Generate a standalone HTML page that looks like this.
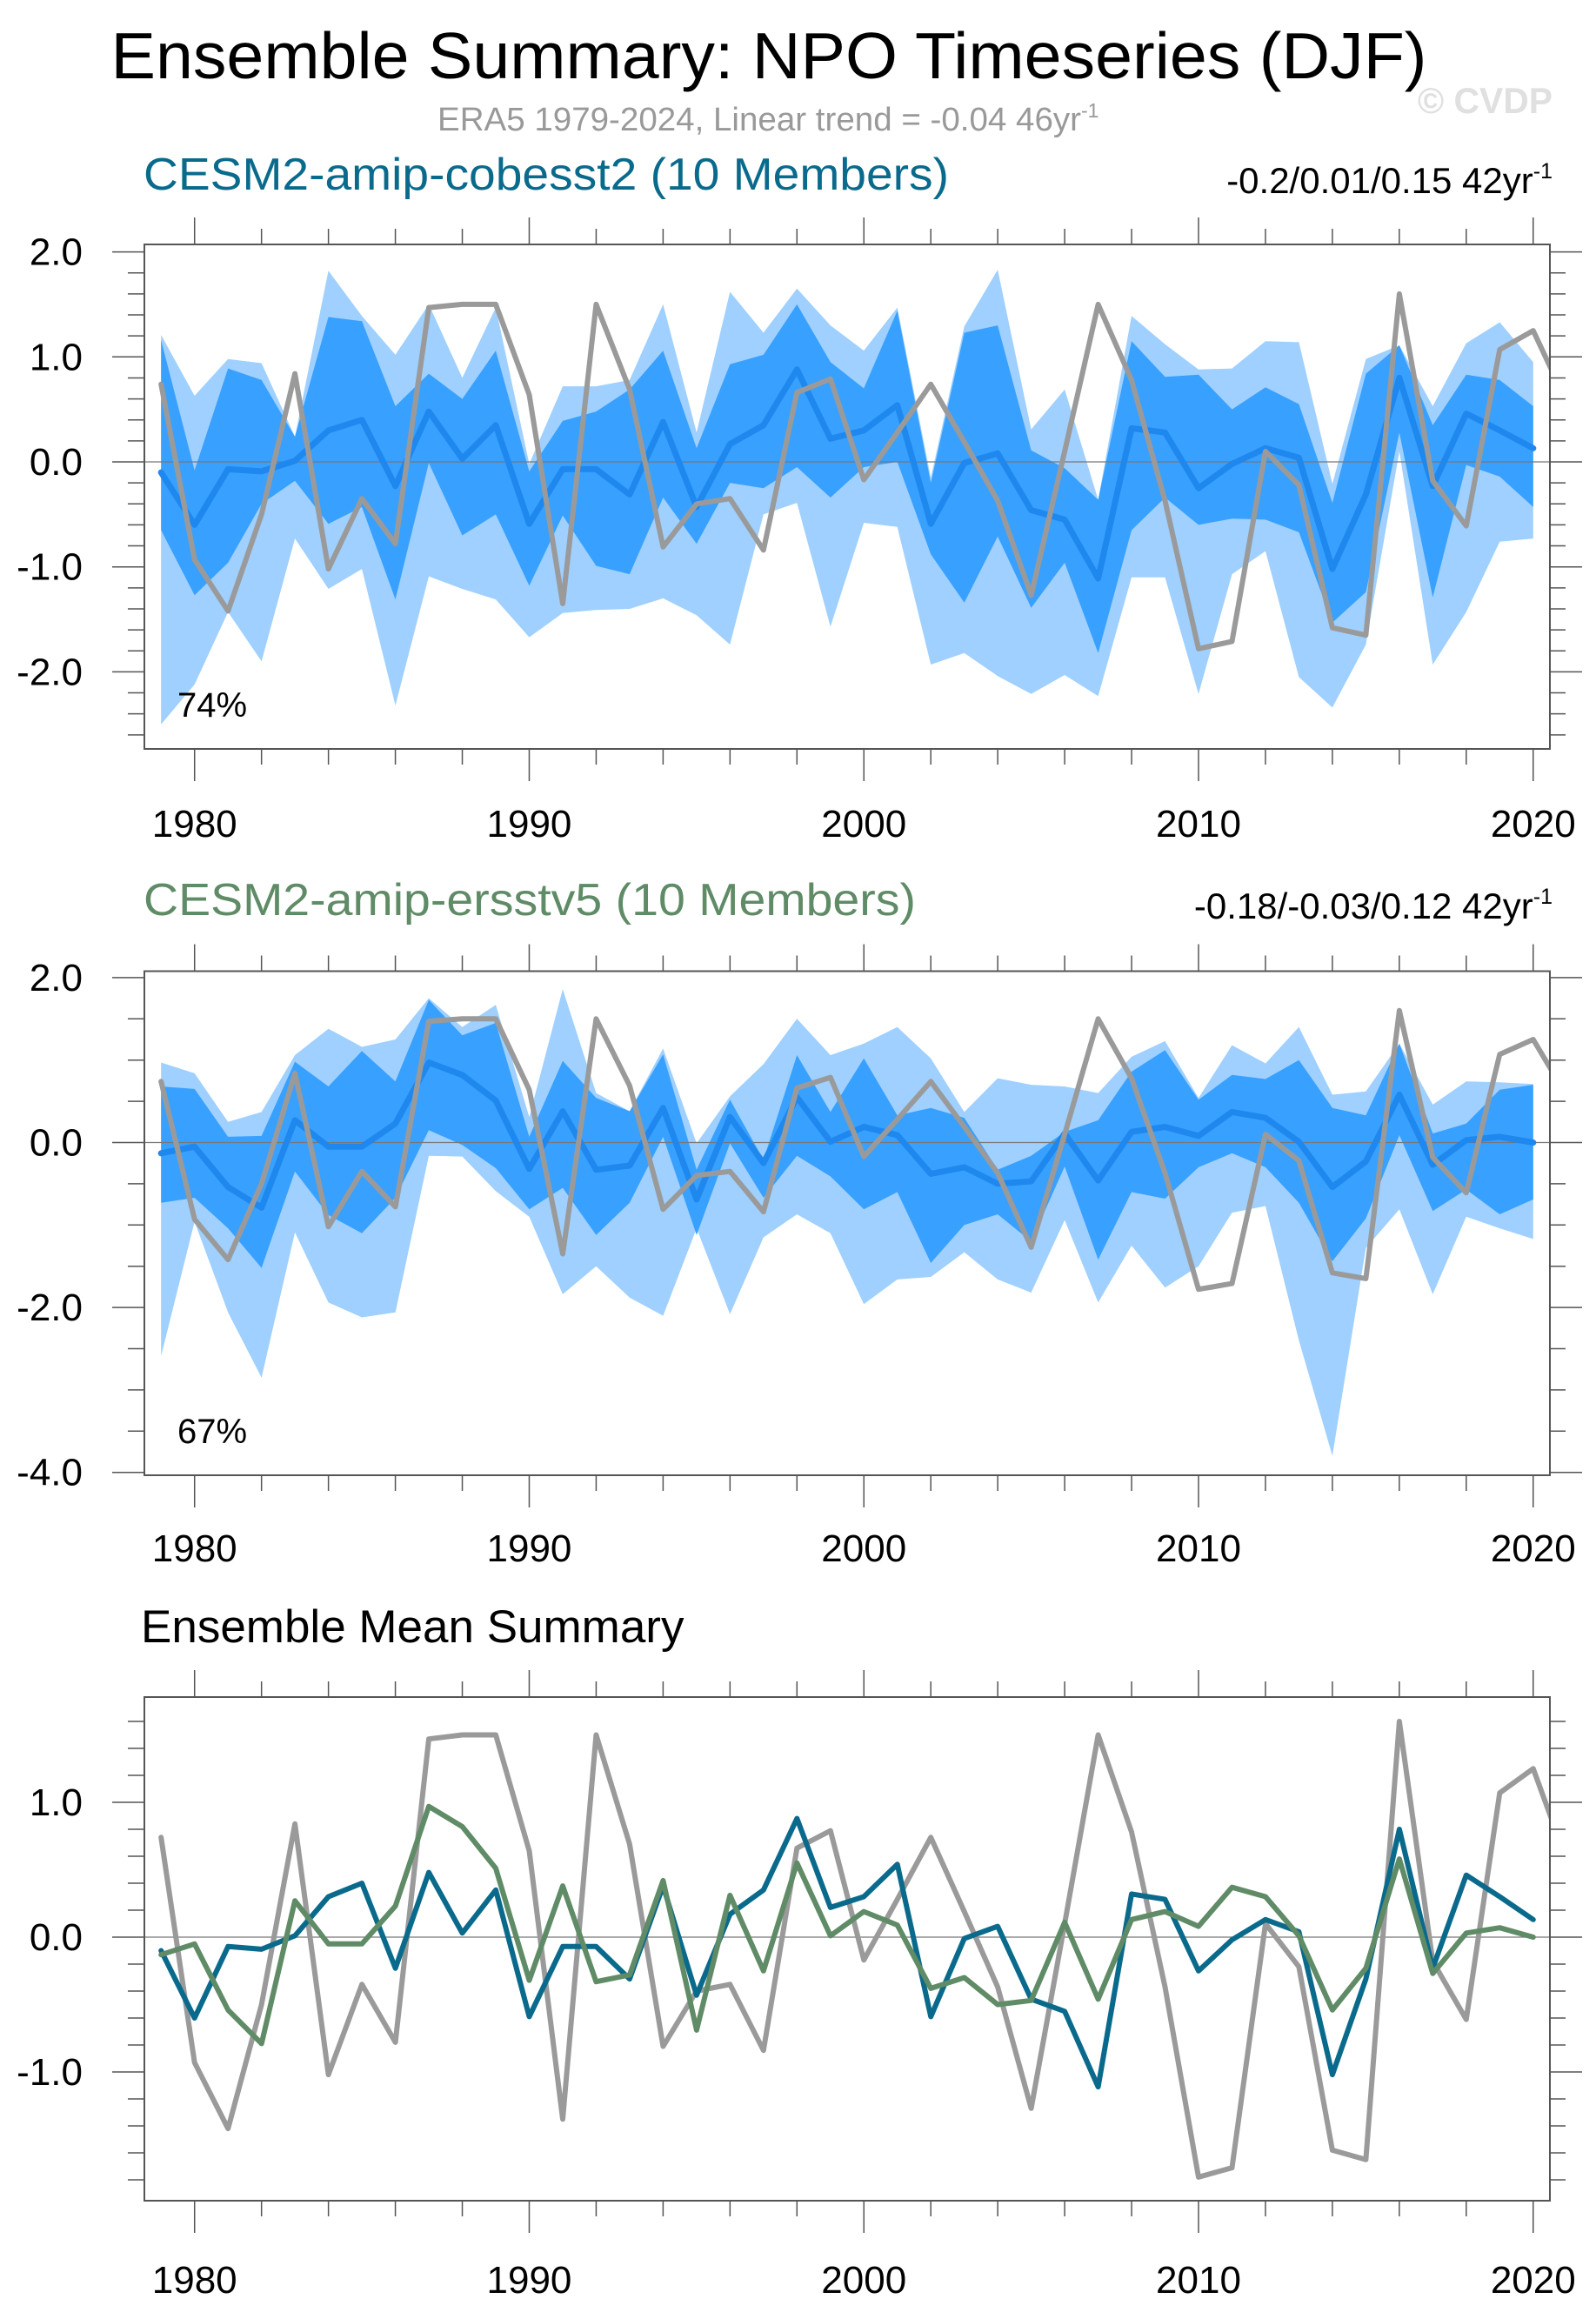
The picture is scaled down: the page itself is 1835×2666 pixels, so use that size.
<!DOCTYPE html>
<html><head><meta charset="utf-8"><style>
html,body{margin:0;padding:0;background:#fff;}
svg{display:block;font-family:"Liberation Sans",Arial,sans-serif;}
</style></head><body>
<svg id="chart" width="1835" height="2666" viewBox="0 0 1835 2666" xmlns="http://www.w3.org/2000/svg">
<text x="884" y="90" font-size="75" text-anchor="middle" textLength="1513" lengthAdjust="spacingAndGlyphs">Ensemble Summary: NPO Timeseries (DJF)</text>
<text x="503" y="150" font-size="38" fill="#999"><tspan textLength="740" lengthAdjust="spacingAndGlyphs">ERA5 1979-2024, Linear trend = -0.04 46yr</tspan><tspan dy="-15" font-size="23">-1</tspan></text>
<text x="1630" y="130" font-size="42" font-weight="bold" fill="#e0e0e0" textLength="155" lengthAdjust="spacingAndGlyphs">© CVDP</text>
<text x="165" y="218" font-size="52" fill="#0a6a8c" textLength="926" lengthAdjust="spacingAndGlyphs">CESM2-amip-cobesst2 (10 Members)</text>
<text x="1785" y="222" font-size="42" text-anchor="end">-0.2/0.01/0.15 42yr<tspan dy="-17" font-size="25">-1</tspan></text>
<text x="165" y="1052" font-size="52" fill="#5f8b66" textLength="888" lengthAdjust="spacingAndGlyphs">CESM2-amip-ersstv5 (10 Members)</text>
<text x="1785" y="1056" font-size="42" text-anchor="end">-0.18/-0.03/0.12 42yr<tspan dy="-17" font-size="25">-1</tspan></text>
<text x="162" y="1888" font-size="53">Ensemble Mean Summary</text>
<g id="p1"></g>
<g id="p2"></g>
<g id="p3"></g>
</svg>
<script>
const years = [1979,1980,1981,1982,1983,1984,1985,1986,1987,1988,1989,1990,1991,1992,1993,1994,1995,1996,1997,1998,1999,2000,2001,2002,2003,2004,2005,2006,2007,2008,2009,2010,2011,2012,2013,2014,2015,2016,2017,2018,2019,2020];
const era5Years = [1979,1980,1981,1982,1983,1984,1985,1986,1987,1988,1989,1990,1991,1992,1993,1994,1995,1996,1997,1998,1999,2000,2001,2002,2003,2004,2005,2006,2007,2008,2009,2010,2011,2012,2013,2014,2015,2016,2017,2018,2019,2020,2021];
const era5 = [0.74,-0.93,-1.42,-0.50,0.84,-1.02,-0.35,-0.78,1.47,1.50,1.50,0.64,-1.35,1.50,0.69,-0.81,-0.40,-0.35,-0.84,0.66,0.79,-0.17,0.28,0.74,0.19,-0.37,-1.27,0.10,1.50,0.78,-0.37,-1.78,-1.71,0.10,-0.22,-1.58,-1.65,1.60,-0.18,-0.61,1.07,1.25,0.57];
// Panel 1: CESM2-amip-cobesst2
const cobMean = [-0.10,-0.60,-0.07,-0.09,0.01,0.30,0.40,-0.23,0.48,0.03,0.35,-0.59,-0.07,-0.07,-0.31,0.38,-0.43,0.17,0.35,0.88,0.22,0.30,0.54,-0.59,-0.01,0.08,-0.46,-0.55,-1.11,0.32,0.28,-0.25,-0.02,0.13,0.04,-1.02,-0.31,0.80,-0.23,0.46,0.30,0.13];
const cobInnerHi = [1.16,-0.08,0.89,0.78,0.24,1.38,1.34,0.53,0.84,0.60,1.06,-0.09,0.39,0.48,0.69,1.06,0.13,0.93,1.02,1.50,0.95,0.70,1.44,-0.20,1.23,1.30,0.11,-0.06,-0.36,1.15,0.81,0.83,0.50,0.71,0.55,-0.39,0.84,1.11,0.35,0.83,0.78,0.53];
const cobInnerLo = [-0.65,-1.27,-0.96,-0.40,-0.18,-0.59,-0.43,-1.31,-0.01,-0.70,-0.50,-1.18,-0.51,-0.99,-1.07,-0.34,-0.78,-0.20,-0.25,-0.05,-0.34,-0.05,0.00,-0.88,-1.34,-0.71,-1.39,-0.96,-1.82,-0.65,-0.34,-0.60,-0.54,-0.55,-0.67,-1.53,-1.24,0.28,-1.29,-0.03,-0.14,-0.43];
const cobOuterHi = [1.21,0.63,0.98,0.94,0.24,1.82,1.39,1.02,1.50,0.80,1.47,-0.02,0.72,0.72,0.78,1.50,0.28,1.62,1.23,1.65,1.30,1.06,1.47,-0.15,1.29,1.83,0.31,0.69,-0.36,1.39,1.12,0.88,0.89,1.15,1.14,-0.21,0.98,1.11,0.53,1.13,1.33,0.95];
const cobOuterLo = [-2.50,-2.12,-1.43,-1.90,-0.73,-1.21,-1.02,-2.32,-1.09,-1.21,-1.31,-1.67,-1.44,-1.41,-1.40,-1.30,-1.46,-1.74,-0.50,-0.39,-1.57,-0.58,-0.62,-1.93,-1.82,-2.04,-2.21,-2.03,-2.23,-1.10,-1.10,-2.21,-1.07,-0.85,-2.05,-2.34,-1.74,0.10,-1.93,-1.43,-0.76,-0.73];
// Panel 2: CESM2-amip-ersstv5
const ersMean = [-0.13,-0.05,-0.54,-0.79,0.27,-0.05,-0.05,0.23,0.97,0.82,0.51,-0.32,0.38,-0.33,-0.28,0.42,-0.69,0.31,-0.25,0.55,0.01,0.19,0.09,-0.38,-0.30,-0.50,-0.47,0.11,-0.46,0.13,0.19,0.08,0.37,0.30,0.01,-0.54,-0.23,0.58,-0.27,0.03,0.07,0.00];
const ersInnerHi = [0.68,0.65,0.07,0.08,0.98,0.68,1.11,0.74,1.73,1.30,1.45,0.07,0.99,0.54,0.38,1.07,-0.33,0.52,-0.21,1.06,0.37,1.02,0.33,0.42,0.30,-0.33,-0.16,0.13,0.27,0.86,1.12,0.52,0.82,0.77,1.00,0.42,0.33,1.20,0.11,0.23,0.64,0.70];
const ersInnerLo = [-0.73,-0.67,-1.04,-1.52,-0.35,-0.88,-1.10,-0.67,0.15,-0.03,-0.31,-0.81,-0.55,-1.12,-0.73,0.07,-1.12,-0.01,-0.67,-0.16,-0.41,-0.81,-0.60,-1.46,-1.00,-0.87,-1.20,-0.29,-1.42,-0.60,-0.68,-0.30,-0.13,-0.30,-0.73,-1.44,-0.92,0.09,-0.83,-0.57,-0.87,-0.69];
const ersOuterHi = [0.97,0.84,0.25,0.37,1.06,1.38,1.16,1.25,1.75,1.40,1.67,0.31,1.86,0.60,0.38,1.14,-0.01,0.56,0.95,1.50,1.06,1.20,1.40,1.02,0.37,0.78,0.70,0.68,0.60,1.04,1.23,0.54,1.18,0.96,1.40,0.58,0.62,1.20,0.46,0.74,0.73,0.71];
const ersOuterLo = [-2.59,-0.96,-2.06,-2.85,-1.09,-1.94,-2.12,-2.06,-0.16,-0.17,-0.59,-0.90,-1.84,-1.50,-1.88,-2.10,-1.04,-2.08,-1.15,-0.87,-1.10,-1.96,-1.66,-1.63,-1.33,-1.66,-1.82,-0.94,-1.94,-1.25,-1.76,-1.50,-0.85,-0.77,-2.40,-3.80,-1.28,-0.81,-1.84,-0.90,-1.04,-1.17];
const p1YTicks = [2.0,1.0,0.0,-1.0,-2.0];
const p2YTicks = [2.0,0.0,-2.0,-4.0];
const p3YTicks = [1.0,0.0,-1.0];
const xTickLabels = [1980,1990,2000,2010,2020];

const NS = "http://www.w3.org/2000/svg";
const X0 = 166, X1 = 1782, XMIN = 1978.5, XMAX = 2020.5;
function xs(yr){ return X0 + (yr - XMIN) / (XMAX - XMIN) * (X1 - X0); }
function mk(parent, tag, attrs){
  const e = document.createElementNS(NS, tag);
  for (const k in attrs) e.setAttribute(k, attrs[k]);
  parent.appendChild(e);
  return e;
}
function makePanel(g, id, top, bot, zeroY, unit, minorStep, yTicks, labelY){
  const ys = v => zeroY - v * unit;
  const vmax = (zeroY - top) / unit, vmin = (zeroY - bot) / unit;
  const cp = mk(g, 'clipPath', {id: 'clip' + id});
  mk(cp, 'rect', {x: X0, y: top, width: X1 - X0, height: bot - top});
  const plot = mk(g, 'g', {'clip-path': 'url(#clip' + id + ')'});
  const tk = mk(g, 'g', {stroke: '#555', 'stroke-width': 1.5});
  const nmin = Math.ceil(vmin / minorStep - 1e-6), nmax = Math.floor(vmax / minorStep + 1e-6);
  for (let n = nmin; n <= nmax; n++){
    const v = n * minorStep, y = ys(v);
    const major = yTicks.some(t => Math.abs(t - v) < 1e-6);
    const l1 = mk(tk, 'line', {x1: major ? 129 : 147, x2: X0, y1: y, y2: y});
    
    
    const l2 = mk(tk, 'line', {x1: X1, x2: major ? 1819 : 1800, y1: y, y2: y});
    
    
  }
  for (let yr = 1980; yr <= 2020; yr += 2){
    const x = xs(yr), major = yr % 10 === 0;
    const a = mk(tk, 'line', {x1: x, x2: x, y1: top, y2: top - (major ? 31 : 18)});
    
    
    const b = mk(tk, 'line', {x1: x, x2: x, y1: bot, y2: bot + (major ? 37 : 18)});
    
    
  }
  yTicks.forEach(v => {
    const t = mk(g, 'text', {x: 95, y: ys(v) + 15, 'font-size': 44, 'text-anchor': 'end'});
    t.textContent = v.toFixed(1);
    
    
  });
  xTickLabels.forEach(yr => {
    const t = mk(g, 'text', {x: xs(yr), y: labelY, 'font-size': 44, 'text-anchor': 'middle'});
    t.textContent = yr;
    
    
  });
  const fr = mk(g, 'rect', {x: X0, y: top, width: X1 - X0, height: bot - top, fill: 'none', stroke: '#555', 'stroke-width': 2});
  
  
  return {plot, ys};
}
function band(plot, ys, hi, lo, color, name){
  let d = '';
  years.forEach((yr, i) => { d += (i ? 'L' : 'M') + xs(yr).toFixed(1) + ',' + ys(hi[i]).toFixed(1); });
  for (let i = years.length - 1; i >= 0; i--) d += 'L' + xs(years[i]).toFixed(1) + ',' + ys(lo[i]).toFixed(1);
  const p = mk(plot, 'path', {d: d + 'Z', fill: color});
  
  
}
function line(plot, ys, xsArr, vals, color, w, name){
  const pts = xsArr.map((yr, i) => xs(yr).toFixed(1) + ',' + ys(vals[i]).toFixed(1)).join(' ');
  const p = mk(plot, 'polyline', {points: pts, fill: 'none', stroke: color, 'stroke-width': w, 'stroke-linejoin': 'round', 'stroke-linecap': 'round'});
  
  
}
function zero(plot, ys){
  const z = mk(plot, 'line', {x1: X0, x2: X1, y1: ys(0), y2: ys(0), stroke: '#777', 'stroke-width': 1.2});
  
  
}
function pct(g, y, s){
  const t = mk(g, 'text', {x: 204, y: y, 'font-size': 40});
  t.textContent = s;
  
  
}
// Panel 1
let P = makePanel(document.getElementById('p1'), 1, 281, 861, 531, 120.7, 0.2, p1YTicks, 962);
band(P.plot, P.ys, cobOuterHi, cobOuterLo, '#9fd0ff', 'outer-spread-band');
band(P.plot, P.ys, cobInnerHi, cobInnerLo, '#38a0ff', 'inner-spread-band');
zero(P.plot, P.ys);
line(P.plot, P.ys, years, cobMean, '#1e88ee', 7, 'ensemble-mean-line');
line(P.plot, P.ys, era5Years, era5, '#9a9a9a', 6, 'era5-line');
pct(document.getElementById('p1'), 824, '74%');
// Panel 2
P = makePanel(document.getElementById('p2'), 2, 1116.5, 1696, 1313.5, 94.8, 0.5, p2YTicks, 1795);
band(P.plot, P.ys, ersOuterHi, ersOuterLo, '#9fd0ff', 'outer-spread-band');
band(P.plot, P.ys, ersInnerHi, ersInnerLo, '#38a0ff', 'inner-spread-band');
zero(P.plot, P.ys);
line(P.plot, P.ys, years, ersMean, '#1e88ee', 7, 'ensemble-mean-line');
line(P.plot, P.ys, era5Years, era5, '#9a9a9a', 6, 'era5-line');
pct(document.getElementById('p2'), 1659, '67%');
// Panel 3
P = makePanel(document.getElementById('p3'), 3, 1951, 2530, 2227, 155, 0.2, p3YTicks, 2636);
zero(P.plot, P.ys);
line(P.plot, P.ys, era5Years, era5, '#9a9a9a', 6, 'era5-line');
line(P.plot, P.ys, years, cobMean, '#0a6a8c', 6, 'cobesst2-mean-line');
line(P.plot, P.ys, years, ersMean, '#5f8b66', 6, 'ersstv5-mean-line');
</script>
</body></html>
